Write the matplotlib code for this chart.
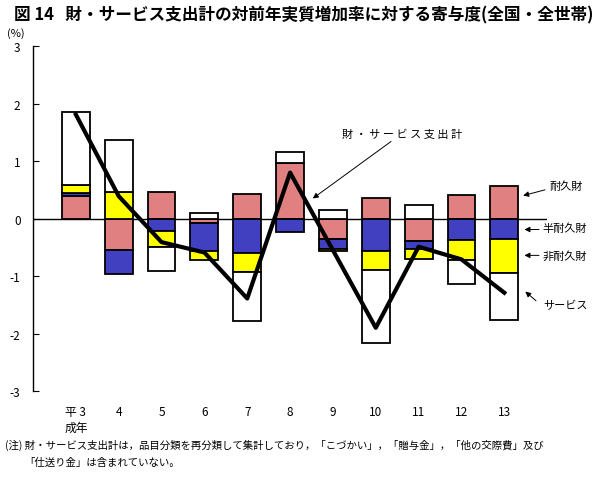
import numpy as np
import matplotlib
matplotlib.use("Agg")
import matplotlib.pyplot as plt

plt.rcParams['font.family'] = ['Noto Sans CJK JP', 'DejaVu Sans']
plt.rcParams['axes.unicode_minus'] = False

# 年次
years = ["平 3\n成年", "4", "5", "6", "7", "8", "9", "10", "11", "12", "13"]

# 寄与度 (%)
durable = [0.39, -0.55, 0.46, -0.07, 0.43, 0.97, -0.35, 0.35, -0.39, 0.41, 0.57]
semi_durable = [0.05, -0.42, -0.22, -0.50, -0.60, -0.23, -0.18, -0.57, -0.14, -0.38, -0.35]
non_durable = [0.15, 0.47, -0.28, -0.15, -0.33, 0.0, -0.03, -0.33, -0.17, -0.34, -0.59]
services = [1.27, 0.90, -0.41, 0.10, -0.85, 0.19, 0.15, -1.27, 0.24, -0.42, -0.82]
total = [1.81, 0.39, -0.41, -0.59, -1.39, 0.80, -0.55, -1.90, -0.49, -0.71, -1.29]

colors = ["#e08080", "#4040c0", "#ffff00", "#ffffff"]

fig = plt.figure(figsize=(6.07, 4.81), dpi=100)
ax = fig.add_axes([0.0544, 0.185, 0.847, 0.717])

x = np.arange(len(years))
pos_base = np.zeros(len(years))
neg_base = np.zeros(len(years))
for vals, c in zip([durable, semi_durable, non_durable, services], colors):
    v = np.array(vals)
    base = np.where(v >= 0, pos_base, neg_base)
    ax.bar(x, v, bottom=base, width=0.65, color=c, edgecolor="black",
           linewidth=1.3, zorder=2)
    pos_base = pos_base + np.where(v >= 0, v, 0)
    neg_base = neg_base + np.where(v < 0, v, 0)

ax.axhline(0, color="black", linewidth=1, zorder=1)
ax.plot(x, total, color="black", linewidth=3, zorder=3)

ax.set_xlim(-1, 11)
ax.set_ylim(-3, 3)
ax.set_yticks(range(-3, 4))
ax.set_xticks(x)
ax.set_xticklabels(years, fontsize=8.5, linespacing=1.3)
ax.tick_params(axis="x", length=0, pad=10)
ax.tick_params(axis="y", direction="in", length=4, pad=9, labelsize=8.5)
for s in ["top", "right", "bottom"]:
    ax.spines[s].set_visible(False)
ax.spines["left"].set_linewidth(1)

arrow = dict(arrowstyle="-|>", lw=0.7, color="black", mutation_scale=8,
             shrinkA=0, shrinkB=0)
ax.annotate("財 ・ サ ー ビ ス 支 出 計", xy=(5.53, 0.35), xytext=(6.21, 1.48),
            fontsize=8, va="center", ha="left", arrowprops=arrow,
            annotation_clip=False)
ax.annotate("", xy=(10.44, 0.40), xytext=(10.95, 0.50), arrowprops=arrow,
            annotation_clip=False)
ax.text(11.05, 0.57, "耐久財", fontsize=8, va="center", ha="left", clip_on=False)
ax.annotate("", xy=(10.47, -0.19), xytext=(10.81, -0.19), arrowprops=arrow,
            annotation_clip=False)
ax.text(10.9, -0.16, "半耐久財", fontsize=8, va="center", ha="left", clip_on=False)
ax.annotate("", xy=(10.47, -0.64), xytext=(10.81, -0.64), arrowprops=arrow,
            annotation_clip=False)
ax.text(10.9, -0.64, "非耐久財", fontsize=8, va="center", ha="left", clip_on=False)
ax.annotate("", xy=(10.49, -1.27), xytext=(10.74, -1.43), arrowprops=arrow,
            annotation_clip=False)
ax.text(10.9, -1.51, "サービス", fontsize=8, va="center", ha="left", clip_on=False)

fig.text(0.5, 0.968, "図 14   財・サービス支出計の対前年実質増加率に対する寄与度(全国・全世帯)",
         ha="center", va="center", fontsize=12, fontweight="bold")
fig.text(0.012, 0.931, "(%)", fontsize=8, va="center", ha="left")
fig.text(0.008, 0.075,
         "(注) 財・サービス支出計は，品目分類を再分類して集計しており，「こづかい」，「贈与金」，「他の交際費」及び",
         fontsize=7.5, va="center", ha="left")
fig.text(0.040, 0.038, "「仕送り金」は含まれていない。", fontsize=7.5, va="center", ha="left")

fig.savefig("out.png", dpi=100)
